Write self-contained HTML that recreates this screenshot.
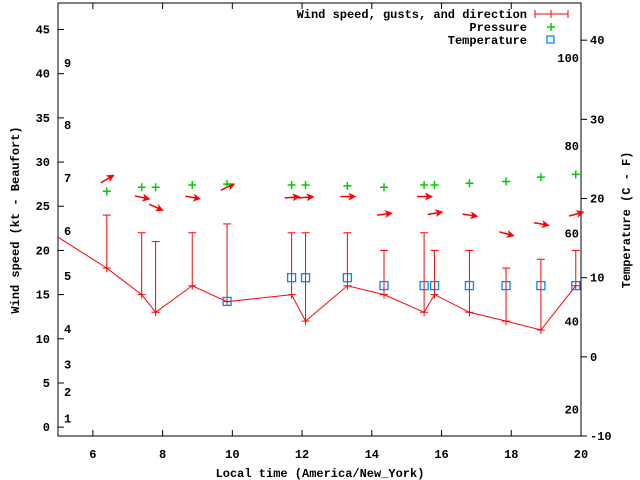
<!DOCTYPE html>
<html><head><meta charset="utf-8"><style>
html,body{margin:0;padding:0;background:#fff;}
svg{display:block;font-family:"Liberation Mono",monospace;font-weight:bold;font-size:12px;}
</style></head><body>
<svg id="chart" width="640" height="480" viewBox="0 0 640 480" xmlns="http://www.w3.org/2000/svg">
<defs><marker id="ah" markerWidth="8" markerHeight="8" refX="6" refY="4" orient="auto" markerUnits="userSpaceOnUse"><path d="M0,0 L8,4 L0,8 L2,4 z" fill="#f00"/></marker></defs>
<g id="plot"></g>
</svg>
<script>
const times=[6.4,7.4,7.8,8.85,9.85,11.7,12.1,13.3,14.35,15.5,15.8,16.8,17.85,18.85,19.85];
const wind=[18,15,13,16,14.2,15,12,16,15,13,15,13,12,11,16];
const gust=[24,22,21,22,23,22,22,22,20,22,20,20,18,19,20];
const tempTimes=[9.85,11.7,12.1,13.3,14.35,15.5,15.8,16.8,17.85,18.85,19.85];
const tempC=[7,10,10,10,9,9,9,9,9,9,9];
const pressure=[26.7,27.15,27.15,27.4,27.5,27.4,27.4,27.3,27.15,27.4,27.4,27.6,27.8,28.3,28.6];
const arrowLevel=[28.05,26.0,24.9,26.0,27.15,26.0,26.0,26.1,24.1,26.1,24.2,24.0,21.9,23.0,24.1];
const arrowAngle=[-30,12,25,10,-25,-5,-5,0,-8,0,-10,8,15,10,-15];
const startWind=[5,21.5];
const xTicks=[6,8,10,12,14,16,18,20];
const yTicks=[0,5,10,15,20,25,30,35,40,45];
const y2Ticks=[-10,0,10,20,30,40];
const fLabels=[100,80,60,40,20];
const bftLabels=[[9,41.2],[8,34.2],[7,28.2],[6,22.2],[5,17.1],[4,11.1],[3,7.1],[2,4.0],[1,1.0]];

const L=58,R=581,T=3,B=436;
const X=t=>L+(t-5)/(20-5)*(R-L);
const Y=v=>B-(v+1)/(48+1)*(B-T);
const Y2=c=>B-(c+10)/(44.7+10)*(B-T);
const YF=f=>Y2((f-32)*5/9);
const NS='http://www.w3.org/2000/svg';
const g=document.getElementById('plot');
function mk(tag,attrs,parent){const e=document.createElementNS(NS,tag);for(const k in attrs)e.setAttribute(k,attrs[k]);(parent||g).appendChild(e);return e;}
function txt(x,y,s,anchor,extra){const e=mk('text',Object.assign({x:x,y:y,'text-anchor':anchor||'middle',fill:'#000'},extra||{}));e.textContent=s;return e;}

const frame=mk('rect',{x:L,y:T,width:R-L,height:B-T,fill:'none',stroke:'#000','stroke-width':1});



xTicks.forEach(t=>{
 const x=X(t);
 mk('line',{x1:x,y1:B,x2:x,y2:B-6,stroke:'#000'});
 mk('line',{x1:x,y1:T,x2:x,y2:T+6,stroke:'#000'});
 const e=txt(x,458,String(t));
 
 
});
yTicks.forEach(v=>{
 const y=Y(v);
 mk('line',{x1:L,y1:y,x2:L+6,y2:y,stroke:'#000'});
 const e=txt(50,y+4,String(v),'end');
 
 
});
y2Ticks.forEach(c=>{
 const y=Y2(c);
 mk('line',{x1:R,y1:y,x2:R+6,y2:y,stroke:'#000'});
 const e=txt(590,y+4,String(c),'start');
 
 
});
fLabels.forEach(f=>{
 const e=txt(579,YF(f)+4,String(f),'end');
 
 
});
bftLabels.forEach(b=>{
 const e=txt(64,Y(b[1])+4,String(b[0]),'start');
 
 
});

// wind line
let pts=[[X(startWind[0]),Y(startWind[1])]].concat(times.map((t,i)=>[X(t),Y(wind[i])]));
const wl=mk('polyline',{points:pts.map(p=>p.join(',')).join(' '),fill:'none',stroke:'#f00','stroke-width':1});


times.forEach((t,i)=>{
 const x=X(t),yw=Y(wind[i]),yg=Y(gust[i]);
 const gb=mk('g',{stroke:'#f00','stroke-width':1});
 
 
 mk('line',{x1:x,y1:yw+4,x2:x,y2:yg},gb);
 mk('line',{x1:x-4,y1:yg,x2:x+4,y2:yg},gb);
 mk('line',{x1:x-4,y1:yw,x2:x+4,y2:yw},gb);
});
// arrows
times.forEach((t,i)=>{
 const cx=X(t),cy=Y(arrowLevel[i]),a=arrowAngle[i]*Math.PI/180,h=7;
 const ar=mk('line',{x1:cx-h*Math.cos(a),y1:cy-h*Math.sin(a),x2:cx+h*Math.cos(a),y2:cy+h*Math.sin(a),stroke:'#f00','stroke-width':1.5,'marker-end':'url(#ah)'});
 
 
});
// pressure
times.forEach((t,i)=>{
 const x=X(t),y=Y(pressure[i]);
 const p=mk('path',{d:`M${x-4},${y}H${x+4}M${x},${y-4}V${y+4}`,stroke:'#0c0','stroke-width':1.5});
 
 
});
// temperature
tempTimes.forEach((t,i)=>{
 const x=X(t),y=Y2(tempC[i]);
 const r=mk('rect',{x:x-4,y:y-4,width:8,height:8,fill:'none',stroke:'#08f','stroke-width':1.3});
 
 
});
// legend
const lg=mk('g',{});


[['Wind speed, gusts, and direction',18],['Pressure',31],['Temperature',44]].forEach(l=>{
 const e=txt(527,l[1],l[0],'end');
 
 
});
mk('path',{d:'M535,14H568M535,10V18M568,10V18M551,10V18',stroke:'#f00','stroke-width':1},lg);
mk('path',{d:'M547,27H555M551,23V31',stroke:'#0c0','stroke-width':1.5},lg);
mk('rect',{x:547,y:36,width:7,height:7,fill:'none',stroke:'#08f','stroke-width':1.3},lg);
// titles
let e=txt(320,477,'Local time (America/New_York)');


e=txt(0,0,'Wind speed (kt - Beaufort)','middle',{transform:'translate(19,220) rotate(-90)'});


e=txt(0,0,'Temperature (C - F)','middle',{transform:'translate(630,220) rotate(-90)'});


</script>
</body></html>
